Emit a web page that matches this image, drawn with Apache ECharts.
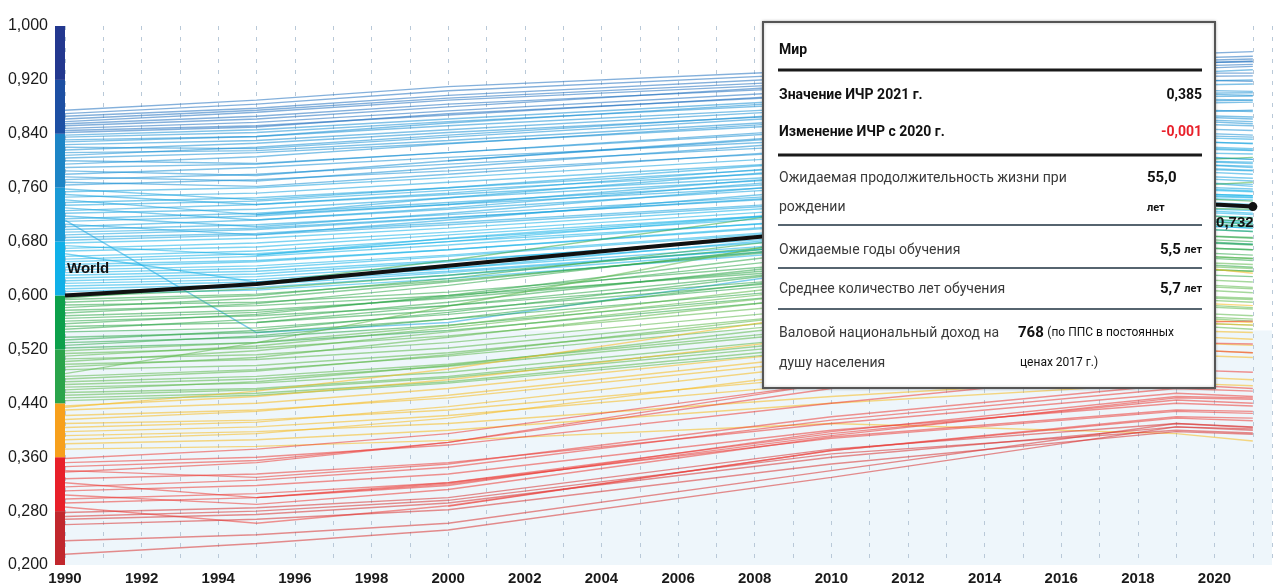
<!DOCTYPE html>
<html>
<head>
<meta charset="utf-8">
<title>ИЧР 1990–2021</title>
<script src="https://cdn.jsdelivr.net/npm/echarts@6/dist/echarts.min.js"></script>
<style>
  html, body { margin: 0; padding: 0; background: #fff; }
  #chart { width: 1275px; height: 587px; }
</style>
</head>
<body>
<div id="chart"></div>
<script>
// years at which every country line is sampled
var years = [1990, 1995, 2000, 2010, 2019, 2021];

// HDI x 1000, one row per country, null = no estimate yet
var blueLines = [
  [875, 890, 910, 935, 958, 962], [870, 884, 904, 930, 952, 955], [866, 878, 897, 925, 948, 951],
  [862, 875, 893, 920, 944, 948], [858, 872, 890, 916, 940, 943], [855, 866, 884, 910, 936, 940],
  [852, 862, 880, 914, 945, 947], [848, 857, 874, 905, 930, 930], [845, 852, 868, 900, 925, 926],
  [842, 850, 870, 898, 920, 918], [838, 846, 862, 892, 918, 920], [835, 842, 858, 886, 912, 914],
  [831, 836, 852, 880, 905, 903], [828, 836, 856, 890, 930, 935], [824, 830, 846, 877, 900, 897],
  [820, 818, 835, 868, 895, 896], [816, 826, 842, 870, 892, 890], [812, 815, 830, 862, 885, 887],
  [808, 820, 838, 872, 900, 901], [804, 812, 826, 856, 876, 873], [800, 796, 812, 848, 872, 875],
  [795, 806, 825, 860, 888, 890], [790, 795, 812, 845, 866, 862], [785, 778, 800, 838, 862, 858],
  [780, 790, 805, 832, 855, 852], [776, 770, 790, 830, 860, 855], [772, 780, 795, 824, 848, 845],
  [768, 762, 780, 818, 842, 838], [764, 772, 785, 815, 838, 835], [758, 742, 760, 800, 830, 825],
  [754, 760, 775, 808, 835, 832], [750, 735, 752, 795, 822, 818], [746, 752, 768, 800, 828, 826],
  [742, 720, 735, 780, 808, 802], [738, 745, 760, 792, 818, 815], [734, 740, 756, 786, 812, 810],
  [730, 712, 730, 775, 800, 796], [726, 735, 750, 780, 806, 802], [722, 728, 745, 776, 800, 798],
  [718, 702, 722, 768, 796, 790], [714, 722, 738, 770, 795, 792], [712, 545, 560, 640, 680, 676],
  [710, 718, 735, 765, 788, 785], [706, 690, 712, 758, 785, 780], [702, 712, 728, 762, 790, 786],
  [698, 705, 720, 752, 778, 774], [694, 700, 716, 748, 775, 770], [690, 698, 715, 750, 770, 762],
  [686, 692, 708, 740, 768, 765], [682, 690, 705, 738, 762, 758], [678, 685, 700, 735, 760, 755],
  [674, 660, 680, 725, 752, 748], [670, 678, 694, 730, 758, 754], [666, 672, 690, 724, 750, 746],
  [662, 620, 640, 690, 712, 706], [658, 666, 684, 720, 748, 745], [654, 662, 680, 712, 738, 732],
  [650, 658, 675, 714, 745, 742], [646, 652, 668, 706, 735, 730], [642, 650, 668, 708, 740, 735],
  [638, 644, 660, 700, 728, 722], [634, 640, 658, 698, 730, 726], [630, 636, 652, 690, 720, 716],
  [626, 632, 650, 694, 725, 720], [622, 628, 645, 686, 715, 710], [618, 624, 640, 680, 712, 708],
  [614, 620, 636, 676, 705, 700], [610, 616, 634, 676, 708, 703], [606, 612, 630, 672, 705, 700],
  [602, 608, 625, 668, 700, 695], [null, 720, 745, 790, 820, 816], [null, null, 800, 840, 868, 865],
  [null, 660, 685, 725, 752, 748]
];
var greenLines = [
  [598, 610, 630, 680, 720, 715], [596, 618, 652, 730, 800, 805], [594, 602, 622, 672, 708, 702],
  [590, 600, 625, 690, 745, 740], [586, 590, 605, 650, 690, 685], [582, 596, 620, 675, 712, 706],
  [578, 585, 600, 640, 672, 668], [574, 588, 615, 680, 730, 728], [570, 578, 596, 645, 682, 676],
  [566, 575, 598, 660, 700, 695], [562, 570, 585, 628, 665, 660], [558, 572, 600, 668, 715, 710],
  [554, 560, 578, 625, 660, 655], [550, 565, 590, 650, 690, 686], [546, 552, 572, 622, 658, 652],
  [538, 545, 565, 612, 648, 642], [534, 548, 575, 640, 685, 680], [530, 538, 556, 605, 640, 636],
  [526, 540, 565, 630, 672, 668], [522, 530, 548, 598, 632, 628], [518, 530, 555, 620, 660, 655],
  [514, 522, 540, 590, 625, 620], [510, 525, 552, 612, 650, 646], [506, 512, 530, 582, 618, 612],
  [502, 518, 546, 606, 645, 640], [498, 505, 522, 575, 610, 604], [494, 508, 538, 600, 640, 636],
  [490, 496, 515, 568, 600, 596], [484, 530, 584, 691, 762, 768], [480, 490, 510, 562, 595, 590],
  [476, 488, 512, 575, 615, 610], [472, 480, 498, 552, 588, 582], [468, 476, 495, 548, 585, 580],
  [464, 470, 486, 540, 575, 570], [460, 472, 496, 560, 598, 594], [456, 462, 480, 535, 570, 565],
  [452, 460, 478, 530, 568, 562], [448, 455, 472, 525, 560, 556], [444, 452, 470, 520, 556, 550],
  [null, 560, 585, 640, 680, 675]
];
var yellowLines = [
  [436, 450, 475, 540, 590, 585], [434, 458, 491, 575, 645, 633], [430, 440, 462, 520, 565, 560],
  [422, 430, 448, 505, 548, 545], [416, 428, 452, 512, 560, 556], [410, 415, 430, 480, 520, 515],
  [404, 412, 435, 498, 540, 535], [398, 405, 422, 470, 512, 508], [392, 398, 410, 450, 480, 475],
  [386, 395, 418, 488, 530, 526], [380, 386, 400, 440, 470, 466], [372, 376, 385, 410, 395, 384]
];
var redLines = [
  [358, 372, 395, 470, 520, 515], [352, 360, 378, 440, 490, 486], [346, 355, 382, 462, 530, 528],
  [340, 330, 350, 420, 468, 462], [338, 352, 382, 470, 560, 562], [328, 335, 352, 410, 455, 450],
  [322, 300, 320, 392, 448, 446], [316, 326, 345, 415, 462, 458], [310, 318, 335, 400, 440, 436],
  [304, 290, 312, 390, 430, 428], [298, 306, 322, 388, 428, 425], [292, 300, 318, 398, 450, 448],
  [286, 262, 288, 370, 418, 414], [278, 285, 300, 372, 410, 405], [272, 280, 296, 365, 400, 396],
  [268, 275, 292, 360, 405, 402], [260, 268, 282, 350, 398, 394], [236, 245, 262, 340, 410, 404],
  [216, 232, 252, 330, 405, 400], [null, null, 287, 370, 420, 418], [null, 300, 322, 395, 445, 440]
];

var worldYears = [1990, 1995, 2000, 2005, 2010, 2015, 2019, 2020, 2021];
var worldValues = [0.600, 0.617, 0.644, 0.671, 0.697, 0.722, 0.739, 0.735, 0.732];

// colour scale on the left, and the line colour for a country's first value in each band
var bandEdges = [0.2, 0.28, 0.36, 0.44, 0.52, 0.6, 0.68, 0.76, 0.84, 0.92, 1.0];
var bandColors = ['#c1272d', '#e8202a', '#f7a01c', '#2aa44a', '#0ca04a',
                  '#10b0e8', '#1a9ad6', '#1d85c6', '#1d4fa3', '#23388f'];
var lineColors = ['#d9312f', '#ec3b35', '#f8b91c', '#5cb84a', '#2ea548',
                  '#14b1e7', '#17a3df', '#1a90d4', '#1f6fbd', '#263a8f'];

function bandOf(v) {
  for (var i = bandEdges.length - 2; i >= 0; i--) {
    if (v >= bandEdges[i]) return i;
  }
  return 0;
}
function fmt(v) { return v.toFixed(3).replace('.', ','); }

var font = 'Liberation Sans Narrow, Liberation Sans, sans-serif';
var boxFont = 'Roboto, sans-serif';

var series = [];

// light blue floor of the plot
series.push({
  type: 'line', data: [], z: 1, silent: true,
  markArea: {
    silent: true, z: 1,
    itemStyle: { color: '#eef6fb', opacity: 1 },
    data: [[{ yAxis: 0.2 }, { yAxis: 0.548 }]]
  }
});

blueLines.concat(greenLines, yellowLines, redLines).forEach(function (row) {
  var pts = [];
  row.forEach(function (v, i) { if (v != null) pts.push([years[i], v / 1000]); });
  series.push({
    type: 'line', data: pts, showSymbol: false, symbol: 'none', silent: true, z: 3,
    emphasis: { disabled: true },
    lineStyle: { width: 1.4, color: lineColors[bandOf(pts[0][1])], opacity: 0.55 }
  });
});

var worldData = worldYears.map(function (y, i) {
  var item = { value: [y, worldValues[i]], symbolSize: 0 };
  if (i === 0) {
    item.label = { show: true, formatter: 'World', position: 'right', distance: 2, offset: [0, -27],
                   fontFamily: font, fontWeight: 'bold', fontSize: 15, color: '#111' };
  }
  if (i === worldYears.length - 1) {
    item.symbolSize = 9;
    item.label = { show: true, formatter: fmt(worldValues[i]), position: 'bottom', distance: 4, offset: [-18, 0],
                   fontFamily: font, fontWeight: 'bold', fontSize: 15, color: '#111' };
  }
  return item;
});
series.push({
  type: 'line', data: worldData, symbol: 'circle', showSymbol: true, clip: false, silent: true, z: 5,
  emphasis: { disabled: true },
  itemStyle: { color: '#111' },
  lineStyle: { width: 4, color: '#111' }
});

// the stacked colour scale
bandColors.forEach(function (c, i) {
  series.push({
    type: 'bar', xAxisIndex: 1, yAxisIndex: 1, stack: 'scale', silent: true, barWidth: '100%',
    data: [i === 0 ? bandEdges[1] : +(bandEdges[i + 1] - bandEdges[i]).toFixed(2)],
    itemStyle: { color: c }
  });
});

// info box drawn over the lines
var TOP = 100;
function txt(x, y, text, opt) {
  opt = opt || {};
  var style = {
    text: text, x: x, y: y,
    font: opt.font || ('14px ' + boxFont),
    fill: opt.fill || '#111',
    align: opt.align || 'left', textAlign: opt.align || 'left',
    verticalAlign: 'middle', textVerticalAlign: 'middle'
  };
  if (opt.rich) style.rich = opt.rich;
  return { type: 'text', z: TOP + 2, style: style };
}
function rule(y, thick) {
  return { type: 'line', z: TOP + 1, shape: { x1: 15, y1: y, x2: 439, y2: y },
           style: { stroke: thick ? '#1a1a1a' : '#56646f', lineWidth: thick ? 3 : 2 } };
}
var rich = {
  b: { font: 'bold 15px ' + boxFont, fill: '#111' },
  s: { font: 'bold 11px ' + boxFont, fill: '#111' },
  n: { font: '12px ' + boxFont, fill: '#111' }
};
var bold = 'bold 14px ' + boxFont;
var gray = '#3a3a3a';

var chart = echarts.init(document.getElementById('chart'));
chart.setOption({
  animation: false,
  grid: [
    { left: 65, right: 3, top: 26, bottom: 22 },
    { left: 55, width: 10, top: 26, bottom: 22 }
  ],
  xAxis: [{
    type: 'value', min: 1990, max: 2021.5, interval: 1, z: 2,
    axisLine: { show: false }, axisTick: { show: false },
    axisLabel: {
      margin: 6, fontFamily: font, fontSize: 15, fontWeight: 'bold', color: '#1a1a1a',
      formatter: function (v) { return (v % 2 === 0) ? String(v) : ''; }
    },
    splitLine: { show: true, lineStyle: { color: '#b9c9d8', width: 1, type: [4, 7] } }
  }, {
    type: 'category', gridIndex: 1, data: ['scale'], show: false
  }],
  yAxis: [{
    type: 'value', min: 0.2, max: 1.0, interval: 0.08,
    axisLine: { show: false }, axisTick: { show: false }, splitLine: { show: false },
    axisLabel: { margin: 17, fontFamily: font, fontSize: 16, color: '#1a1a1a', formatter: fmt }
  }, {
    type: 'value', gridIndex: 1, min: 0.2, max: 1.0, show: false
  }],
  series: series,
  graphic: [{
    type: 'group', x: 763, y: 22, z: TOP,
    children: [
      { type: 'rect', z: TOP, shape: { x: 0, y: 0, width: 452, height: 366 },
        style: { fill: '#fff', stroke: '#555', lineWidth: 2, shadowBlur: 3, shadowColor: 'rgba(0,0,0,0.25)' } },
      txt(16, 28, 'Мир', { font: bold }),
      rule(48, true),
      txt(16, 73, 'Значение ИЧР 2021 г.', { font: bold }),
      txt(439, 73, '0,385', { font: bold, align: 'right' }),
      txt(16, 110, 'Изменение ИЧР с 2020 г.', { font: bold }),
      txt(439, 110, '-0,001', { font: bold, align: 'right', fill: '#e8202a' }),
      rule(133, true),
      txt(16, 156, 'Ожидаемая продолжительность жизни при', { fill: gray }),
      txt(16, 185, 'рождении', { fill: gray }),
      txt(384, 156, '55,0', { font: 'bold 15px ' + boxFont }),
      txt(384, 186, 'лет', { font: 'bold 11px ' + boxFont }),
      rule(203, false),
      txt(16, 228, 'Ожидаемые годы обучения', { fill: gray }),
      txt(439, 228, '{b|5,5} {s|лет}', { align: 'right', rich: rich }),
      rule(246, false),
      txt(16, 267, 'Среднее количество лет обучения', { fill: gray }),
      txt(439, 267, '{b|5,7} {s|лет}', { align: 'right', rich: rich }),
      rule(287, false),
      txt(16, 311, 'Валовой национальный доход на', { fill: gray }),
      txt(16, 341, 'душу населения', { fill: gray }),
      txt(255, 311, '{b|768} {n|(по ППС в постоянных}', { rich: rich }),
      txt(257, 341, 'ценах 2017 г.)', { font: '12px ' + boxFont })
    ]
  }]
});
</script>
</body>
</html>
